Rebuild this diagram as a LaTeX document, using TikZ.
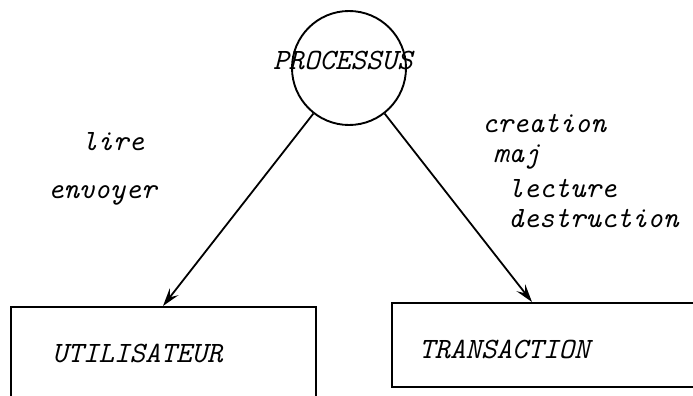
\documentclass[tikz,border=0pt]{standalone}
\usetikzlibrary{arrows.meta}
\tikzset{
  lbl/.style={font=\fontsize{29.5}{30}\selectfont\ttfamily\itshape, inner sep=0pt, anchor=base west},
  boxnode/.style={draw, line width=2.2pt, rectangle, anchor=north west, inner sep=0pt},
  proc/.style={draw, line width=1.9pt, circle, inner sep=0pt, minimum size=114pt},
  link/.style={line width=1.8pt, -{Stealth[length=18pt,width=11pt,inset=7pt]}}
}
\begin{document}
\begin{tikzpicture}[x=1pt,y=-1pt]
\useasboundingbox (0,0) rectangle (693,396);
\clip (0,0) rectangle (693,396);
\fill[white] (0,0) rectangle (693,396);
\node[proc] (c) at (349,68) {};
\node[lbl] (ptxt) at (273,70) {PROCESSUS};
\node[boxnode, minimum width=305pt, minimum height=110pt] (u) at (10,306) {};
\node[boxnode, minimum width=330pt, minimum height=84pt] (t) at (391,302) {};
\coordinate (tin) at (532,302);
\coordinate (uin) at (163,306);
\node[lbl] (utxt) at (52,362) {UTILISATEUR};
\node[lbl] (ttxt) at (419,358) {TRANSACTION};
\node[lbl] (l1) at (82,150) {lire};
\node[lbl] (l2) at (48,198) {envoyer};
\node[lbl] (r1) at (482,132) {creation};
\node[lbl] (r2) at (493,162) {maj};
\node[lbl] (r3) at (508,197) {lecture};
\node[lbl] (r4) at (508,227) {destruction};
\draw[link] (c) -- (uin);
\draw[link] (c) -- (tin);
\end{tikzpicture}
\end{document}
